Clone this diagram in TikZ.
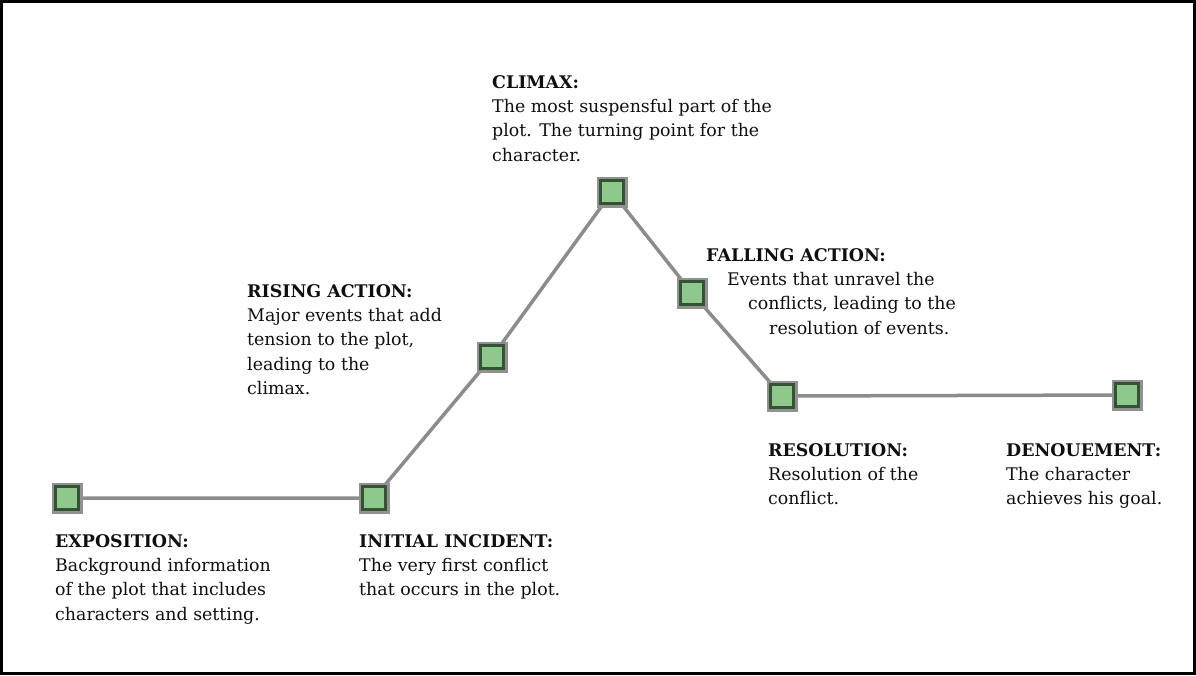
\documentclass[tikz,border=0pt]{standalone}
\usepackage{fontspec}
\setmainfont{DejaVu Serif}
\usetikzlibrary{backgrounds}
\definecolor{markfill}{RGB}{143,200,140}
\definecolor{markedge}{RGB}{52,82,52}
\definecolor{markhalo}{RGB}{145,145,145}
\definecolor{linegray}{RGB}{140,140,140}
\definecolor{textblack}{RGB}{15,15,15}
\begin{document}
\begin{tikzpicture}[x=1pt,y=-1pt,
  stage/.style={rectangle, minimum size=23pt, inner sep=0pt, fill=markfill,
    draw=markedge, line width=3.4pt,
    preaction={draw=markhalo, line width=8pt}},
  plotline/.style={draw=linegray, line width=3.5pt, line join=round},
  lbl/.style={anchor=north west, inner sep=0pt, align=left,
    font=\fontsize{17.4}{24.3}\selectfont, text=textblack}]
\useasboundingbox (0,0) rectangle (1196,675);
\draw[line width=2.5pt] (1.5,1.5) rectangle (1194.5,673.5);

% plot stages
\node[stage] (expo) at (67,498) {};
\node[stage] (inc)  at (374,498) {};
\node[stage] (rise) at (492,357) {};
\node[stage] (clim) at (612,192) {};
\node[stage] (fall) at (692,293) {};
\node[stage] (reso) at (782,396) {};
\node[stage] (deno) at (1127,395) {};

% the plot line runs behind the markers
\begin{scope}[on background layer]
\draw[plotline] (expo.center) -- (inc.center) -- (rise.center) -- (clim.center)
  -- (fall.center) -- (reso.center) -- (deno.center);
\end{scope}

% descriptions
\node[lbl] (texpo) at (55,534) {\textbf{EXPOSITION:}\\Background information\\of the plot that includes\\characters and setting.};
\node[lbl] (tinc) at (359,534) {\textbf{INITIAL INCIDENT:}\\The very first conflict\\that occurs in the plot.};
\node[lbl] (trise) at (247,284) {\textbf{RISING ACTION:}\\Major events that add\\tension to the plot,\\leading to the\\climax.};
\node[lbl] (tclim) at (492,75) {\textbf{CLIMAX:}\\The most suspensful part of the\\plot. The turning point for the\\character.};
\node[lbl] (tfall) at (706,248) {\textbf{FALLING ACTION:}\\\hspace*{21pt}Events that unravel the\\\hspace*{42pt}conflicts, leading to the\\\hspace*{63pt}resolution of events.};
\node[lbl] (treso) at (768,443) {\textbf{RESOLUTION:}\\Resolution of the\\conflict.};
\node[lbl] (tdeno) at (1006,443) {\textbf{DENOUEMENT:}\\The character\\achieves his goal.};
\end{tikzpicture}
\end{document}
